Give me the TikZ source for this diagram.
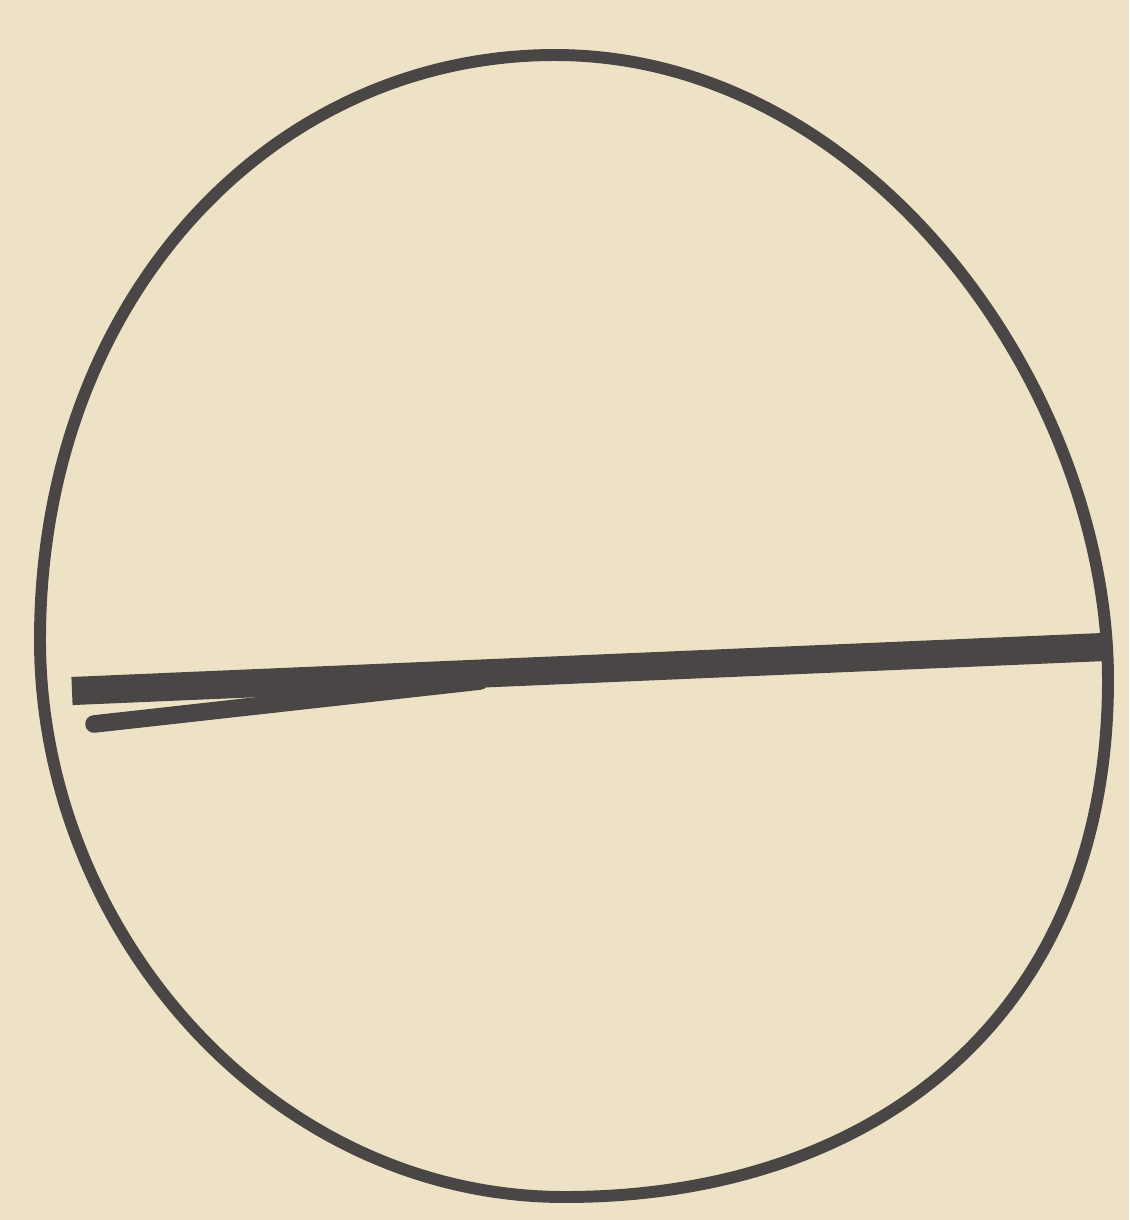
\documentclass[tikz,border=0pt]{standalone}
\usepackage{xcolor}
\usepackage{tikz}

\definecolor{paper}{HTML}{EEE2C6}
\definecolor{pencil}{HTML}{4B4646}

\begin{document}
\begin{tikzpicture}[
    x=0.01cm, y=-0.01cm,
    outline/.style={
        draw=pencil,
        line width=3.4pt,
        line join=round
    },
    stroke/.style={
        draw=pencil,
        line width=8pt
    }
]

\useasboundingbox[fill=paper] (0,0) rectangle (1129,1220);

% the oval
\coordinate (top) at (555,55);
\coordinate (right) at (1108,680);
\coordinate (bottom) at (565,1197);
\coordinate (left) at (40,640);
\draw[outline] (top)
    .. controls (870,55) and (1108,390) .. (right)
    .. controls (1108,1020) and (870,1197) .. (bottom)
    .. controls (270,1197) and (40,930) .. (left)
    .. controls (40,300) and (270,55) .. (top) -- cycle;

% the bar across it
\coordinate (barleft) at (72,691);
\coordinate (barright) at (1104,647);
\draw[stroke] (barleft) -- (barright);
\draw[draw=pencil, line width=5pt, line cap=round] (94,724) -- (480,681);

\end{tikzpicture}
\end{document}
